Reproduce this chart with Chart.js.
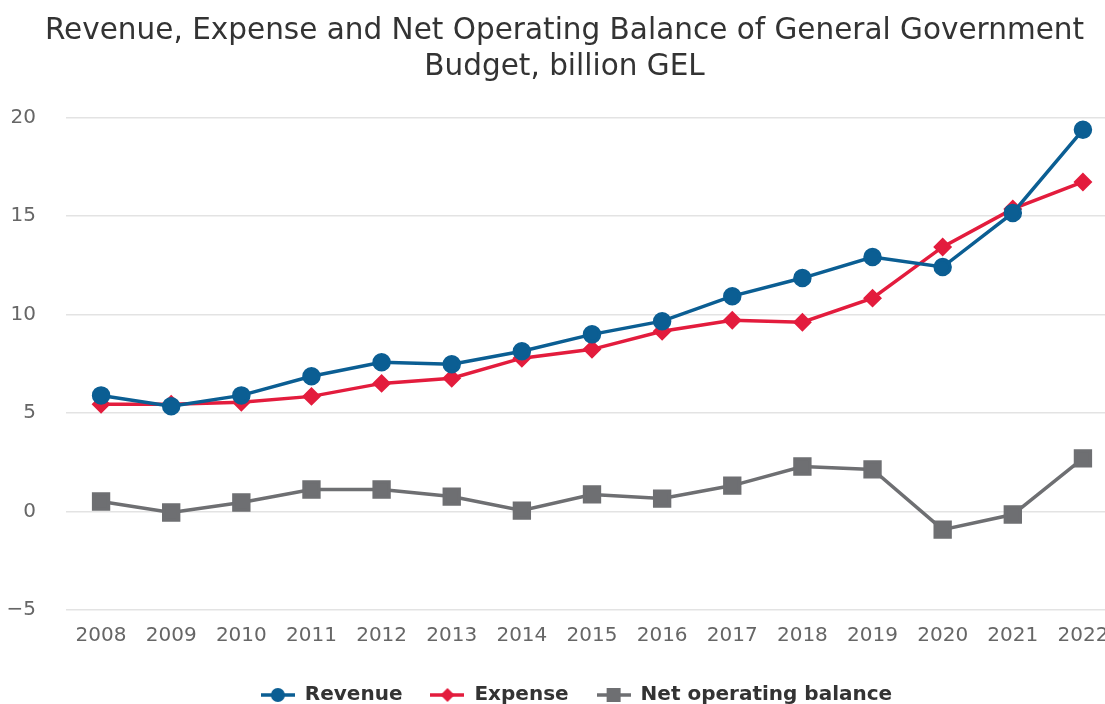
<!DOCTYPE html>
<html>
<head>
<meta charset="utf-8">
<script src="https://cdn.jsdelivr.net/npm/chart.js@4"></script>
<style>
  html, body { margin: 0; padding: 0; background: #ffffff; overflow: hidden; }
  #wrap { width: 1105px; height: 704px; overflow: hidden; position: relative; }
  #box { position: absolute; left: 0; top: 0; width: 1132px; height: 720px; }
</style>
</head>
<body>
<div id="wrap"><div id="box"><canvas id="c"></canvas></div></div>
<script>
const years = ['2008','2009','2010','2011','2012','2013','2014','2015','2016','2017','2018','2019','2020','2021','2022'];
const revenue = [5.9, 5.35, 5.9, 6.87, 7.58, 7.48, 8.14, 9.0, 9.67, 10.94, 11.86, 12.93, 12.42, 15.17, 19.39];
const expense = [5.45, 5.45, 5.55, 5.85, 6.51, 6.77, 7.79, 8.24, 9.16, 9.72, 9.62, 10.84, 13.44, 15.37, 16.74];
const netBalance = [0.51, -0.05, 0.46, 1.12, 1.12, 0.76, 0.05, 0.87, 0.66, 1.32, 2.29, 2.14, -0.92, -0.15, 2.70];
const titleLines = ['Revenue, Expense and Net Operating Balance of General Government', 'Budget, billion GEL'];
const seriesNames = ['Revenue', 'Expense', 'Net operating balance'];

const colors = ['#0b5e93', '#e31c3d', '#6e6f72'];
const FONT = "'DejaVu Sans', sans-serif";

function legendIcon(color, shape) {
  const c = document.createElement('canvas');
  c.width = 34; c.height = 18;
  const g = c.getContext('2d');
  g.strokeStyle = color; g.fillStyle = color; g.lineWidth = 3.5;
  g.beginPath(); g.moveTo(0, 9); g.lineTo(34, 9); g.stroke();
  g.beginPath();
  if (shape === 'circle') { g.arc(17, 9, 7, 0, Math.PI * 2); }
  else if (shape === 'diamond') { g.moveTo(17, 2); g.lineTo(24, 9); g.lineTo(17, 16); g.lineTo(10, 9); g.closePath(); }
  else { g.rect(10, 2, 14, 14); }
  g.fill();
  return c;
}
const icons = [legendIcon(colors[0], 'circle'), legendIcon(colors[1], 'diamond'), legendIcon(colors[2], 'square')];

const legendNudge = {
  id: 'legendNudge',
  afterLayout(chart) {
    const lg = chart.legend;
    if (!lg) return;
    lg.left += 12; lg.right += 12;
    lg.top -= 5; lg.bottom -= 5;
  }
};

new Chart(document.getElementById('c'), {
  type: 'line',
  data: {
    labels: years,
    datasets: [
      { label: seriesNames[0], data: revenue, borderColor: colors[0], backgroundColor: colors[0], borderWidth: 3.5, pointStyle: 'circle', pointRadius: 7.5, pointHoverRadius: 7.5, tension: 0 },
      { label: seriesNames[1], data: expense, borderColor: colors[1], backgroundColor: colors[1], borderWidth: 3.5, pointStyle: 'rectRot', pointRadius: 7, pointHoverRadius: 7, tension: 0 },
      { label: seriesNames[2], data: netBalance, borderColor: colors[2], backgroundColor: colors[2], borderWidth: 3.5, pointStyle: 'rect', pointRadius: 10.5, pointHoverRadius: 10.5, tension: 0 }
    ]
  },
  plugins: [legendNudge],
  options: {
    responsive: true,
    maintainAspectRatio: false,
    animation: false,
    layout: { padding: { left: 0, right: 3, top: 0, bottom: 0 } },
    plugins: {
      title: {
        display: true,
        text: titleLines,
        color: '#333333',
        font: { family: FONT, size: 29.5, weight: 'normal', lineHeight: 1.2 },
        padding: { top: 14, bottom: 33 }
      },
      legend: {
        position: 'bottom',
        labels: {
          usePointStyle: true,
          pointStyleWidth: 34,
          color: '#333333',
          font: { family: FONT, size: 20, weight: 'bold' },
          padding: 28,
          generateLabels: (chart) => chart.data.datasets.map((ds, i) => ({
            text: ds.label, pointStyle: icons[i], fillStyle: ds.borderColor, strokeStyle: ds.borderColor,
            lineWidth: 0, hidden: false, datasetIndex: i, fontColor: '#333333'
          }))
        }
      },
      tooltip: { enabled: false }
    },
    scales: {
      x: {
        offset: true,
        grid: { display: false, drawTicks: false },
        border: { display: false },
        ticks: { color: '#666666', font: { family: FONT, size: 20 }, padding: 14, maxRotation: 0, autoSkip: false }
      },
      y: {
        min: -5, max: 20,
        grid: { color: '#e3e3e3', lineWidth: 1.5, drawTicks: false },
        border: { display: false },
        afterFit: (s) => { s.width = 66; },
        ticks: {
          stepSize: 5, color: '#666666', font: { family: FONT, size: 20 }, padding: 30,
          callback: (v) => v < 0 ? '\u2212' + Math.abs(v) : String(v)
        }
      }
    }
  }
});
</script>
</body>
</html>
